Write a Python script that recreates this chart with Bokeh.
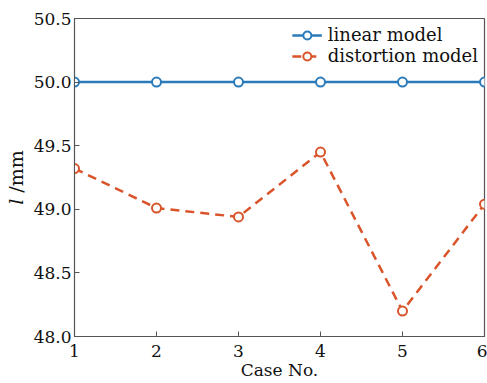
from bokeh.plotting import figure
from bokeh.models import Range1d, FixedTicker, NumeralTickFormatter, Legend, LegendItem
from bokeh.embed import file_html
from bokeh.resources import INLINE

cases = [1, 2, 3, 4, 5, 6]
linear_model = [50.0, 50.0, 50.0, 50.0, 50.0, 50.0]
distortion_model = [49.32, 49.01, 48.94, 49.45, 48.20, 49.04]
x_ticks = [1, 2, 3, 4, 5, 6]
y_ticks = [48.0, 48.5, 49.0, 49.5, 50.0, 50.5]

FONT = "DejaVu Serif"
BLUE = "#2b7bba"
ORANGE = "#d9542a"

p = figure(width=487, height=383, output_backend="svg", toolbar_location=None,
           x_range=Range1d(1, 6), y_range=Range1d(48.0, 50.5),
           min_border_left=74, min_border_right=3, min_border_top=18, min_border_bottom=47)
p.grid.visible = False
p.outline_line_color = "#555555"
p.outline_line_width = 1.2

for ax in (p.xaxis[0], p.yaxis[0]):
    ax.major_tick_in = 5
    ax.major_tick_out = 0
    ax.minor_tick_line_color = None
    ax.axis_line_color = "#555555"
    ax.major_tick_line_color = "#555555"
    ax.major_label_text_font = FONT
    ax.major_label_text_font_size = "17px"
    ax.major_label_text_color = "#111111"
    ax.axis_label_text_font = FONT
    ax.axis_label_text_font_style = "normal"
    ax.axis_label_text_color = "#111111"

p.xaxis.ticker = FixedTicker(ticks=x_ticks)
p.yaxis.ticker = FixedTicker(ticks=y_ticks)
p.yaxis.formatter = NumeralTickFormatter(format="0.0")
p.xaxis.axis_label = "Case No."
p.xaxis.axis_label_text_font_size = "17px"
p.xaxis.axis_label_standoff = 0
p.xaxis.major_label_standoff = 8
p.yaxis.major_label_standoff = 3
p.yaxis.axis_label = "\U0001D459 /mm"
p.yaxis.axis_label_text_font_size = "19px"
p.yaxis.axis_label_standoff = 4

r1 = p.line(cases, linear_model, line_color=BLUE, line_width=2.5)
c1 = p.scatter(cases, linear_model, marker="circle", size=9, fill_color="white",
               line_color=BLUE, line_width=2)
r2 = p.line(cases, distortion_model, line_color=ORANGE, line_width=2.5, line_dash="9 6")
c2 = p.scatter(cases, distortion_model, marker="circle", size=9, fill_color="white",
               line_color=ORANGE, line_width=2)

legend = Legend(items=[LegendItem(label="linear model", renderers=[r1, c1]),
                       LegendItem(label="distortion model", renderers=[r2, c2])],
                location="top_right", background_fill_alpha=0, border_line_color=None,
                label_text_font=FONT, label_text_font_size="18px", label_text_color="#111111",
                glyph_width=30, spacing=-2, padding=2, margin=6, label_standoff=6)
p.add_layout(legend)

open("out.html", "w").write(file_html(p, INLINE))
